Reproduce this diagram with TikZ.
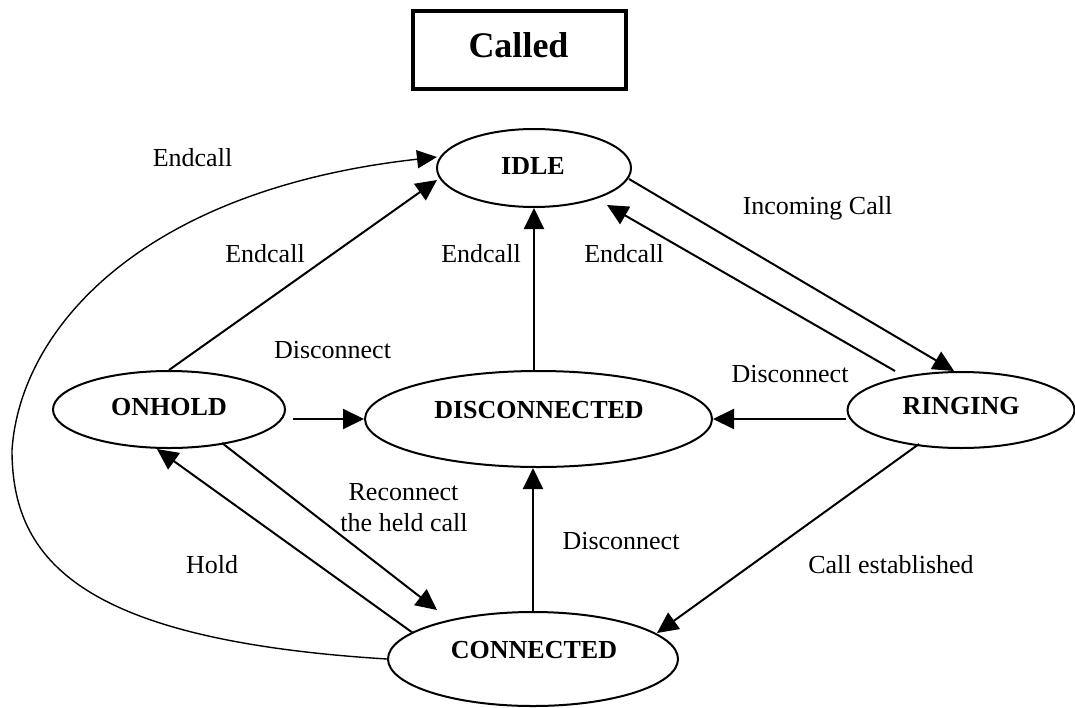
\documentclass[tikz,border=0pt]{standalone}
\usepackage{fontspec}
\setmainfont{Liberation Serif}
\usetikzlibrary{arrows.meta,shapes.geometric,calc}

\tikzset{
  state/.style={draw, ellipse, line width=2pt, inner sep=0pt},
  statename/.style={anchor=base, inner sep=0pt, font=\fontsize{26}{30}\selectfont\bfseries},
  edgelabel/.style={anchor=base, inner sep=0pt, font=\fontsize{26}{30}\selectfont},
  titlebox/.style={draw, line width=3.3pt, minimum width=213pt, minimum height=78pt, inner sep=0pt},
  arr/.style={line width=2pt, -{Triangle[length=21pt,width=20pt]}},
  longarr/.style={line width=1.4pt, -{Triangle[length=20pt,width=18pt]}}
}

\begin{document}
\begin{tikzpicture}[x=1pt, y=-1pt]
  \useasboundingbox (0,0) rectangle (1075,707);

  % title
  \node[titlebox] (title) at (519.5,50) {};
  \node[anchor=base, inner sep=0pt, font=\fontsize{36}{40}\selectfont\bfseries] (titletext) at (518.5,57) {Called};

  % states
  \node[state, minimum width=194pt, minimum height=78pt] (idle) at (534,168) {};
  \node[state, minimum width=232pt, minimum height=77pt] (onhold) at (169,409.5) {};
  \node[state, minimum width=347pt, minimum height=96pt] (dis) at (538.5,419) {};
  \node[state, minimum width=227pt, minimum height=76pt] (ring) at (961,410) {};
  \node[state, minimum width=290pt, minimum height=94pt] (conn) at (533,659) {};

  \node[statename] (idlet) at (533,174) {IDLE};
  \node[statename] (onholdt) at (169,415) {ONHOLD};
  \node[statename] (dist) at (539,418) {DISCONNECTED};
  \node[statename] (ringt) at (961,414) {RINGING};
  \node[statename] (connt) at (534,658) {CONNECTED};

  % transitions
  \coordinate (leftbend) at (12,450);
  \draw[longarr] (conn.west) .. controls (80,640) and (12,560) .. (leftbend)
        .. controls (20,330) and (140,190) .. ($(idle.center)+(-97,-11)$);
  \draw[arr] (onhold.north) -- ($(idle.center)+(-97,12)$);
  \draw[arr] ($(onhold.center)+(124,9.5)$) -- (dis.west);
  \draw[arr] ($(conn.center)+(-120,-26)$) -- ($(onhold.center)+(-12,39.5)$);
  \draw[arr] ($(onhold.center)+(53,33.5)$) -- ($(conn.center)+(-96,-49)$);
  \draw[arr] (idle.south |- dis.north) -- (idle.south);
  \draw[arr] (conn.north) -- (conn.north |- dis.south);
  \draw[arr] ($(idle.center)+(95,11)$) -- ($(ring.center)+(-7,-39)$);
  \draw[arr] ($(ring.center)+(-66,-39)$) -- ($(idle.center)+(73,37)$);
  \draw[arr] ($(ring.center)+(-115,9)$) -- (dis.east);
  \draw[arr] ($(ring.center)+(-42,34)$) -- ($(conn.center)+(124,-26)$);

  % transition labels
  \node[edgelabel] (l1) at (192.5,166) {Endcall};
  \node[edgelabel] (l2) at (265,262) {Endcall};
  \node[edgelabel] (l3) at (481,262) {Endcall};
  \node[edgelabel] (l4) at (624,262) {Endcall};
  \node[edgelabel] (l5) at (817.5,214) {Incoming Call};
  \node[edgelabel] (l6) at (332.5,358) {Disconnect};
  \node[edgelabel] (l7) at (790,382) {Disconnect};
  \node[edgelabel] (l8) at (403.5,500) {Reconnect};
  \node[edgelabel] (l9) at (404,531) {the held call};
  \node[edgelabel] (l10) at (212,573) {Hold};
  \node[edgelabel] (l11) at (621,549) {Disconnect};
  \node[edgelabel] (l12) at (891,573) {Call established};
\end{tikzpicture}
\end{document}
